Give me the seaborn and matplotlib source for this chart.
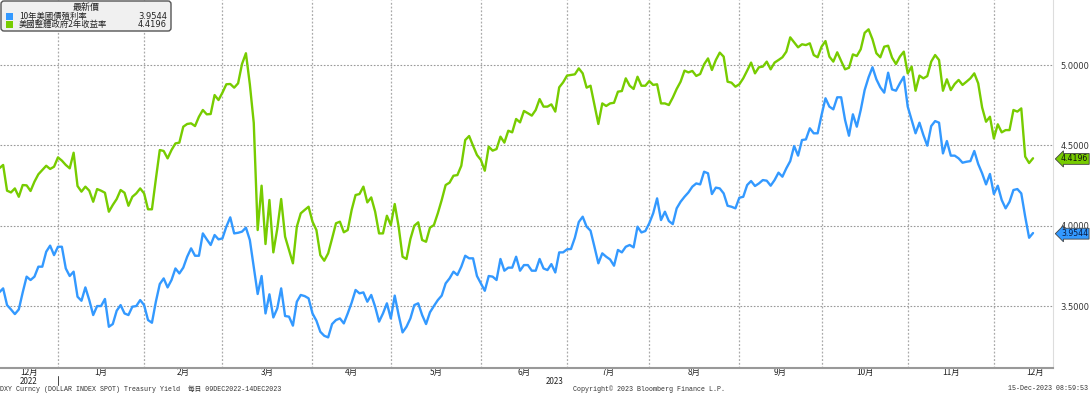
import matplotlib.pyplot as plt
import matplotlib.transforms as mtransforms
from matplotlib.patches import FancyBboxPatch, Rectangle
from matplotlib.lines import Line2D
import seaborn as sns
import pandas as pd
import numpy as np

sns.set_style("white")
plt.rcParams['font.family'] = ['Noto Sans CJK TC', 'DejaVu Sans']
plt.rcParams['axes.unicode_minus'] = False

# 每日數據（工作日），由 2022-12-09 起
start_date = "2022-12-09"
name_10y = "10年美國債殖利率"
name_2y = "美國整體政府2年收益率"

yield_10y = [
    3.585, 3.610, 3.506, 3.479, 3.450, 3.479, 3.585, 3.683, 3.662, 3.683,
    3.745, 3.745, 3.838, 3.876, 3.817, 3.869, 3.869, 3.734, 3.687, 3.714,
    3.558, 3.533, 3.616, 3.537, 3.444, 3.500, 3.500, 3.544, 3.371, 3.388,
    3.471, 3.506, 3.454, 3.444, 3.496, 3.500, 3.537, 3.506, 3.413, 3.396,
    3.527, 3.637, 3.672, 3.616, 3.662, 3.734, 3.703, 3.739, 3.807, 3.859,
    3.813, 3.813, 3.952, 3.915, 3.880, 3.942, 3.915, 3.921, 3.994, 4.052,
    3.952, 3.956, 3.963, 3.988, 3.911, 3.745, 3.575, 3.687, 3.454, 3.573,
    3.429, 3.485, 3.610, 3.438, 3.434, 3.378, 3.527, 3.569, 3.562, 3.548,
    3.454, 3.409, 3.340, 3.315, 3.305, 3.388, 3.413, 3.423, 3.392, 3.454,
    3.521, 3.600, 3.579, 3.585, 3.527, 3.569, 3.496, 3.403, 3.454, 3.517,
    3.423, 3.565, 3.444, 3.336, 3.371, 3.423, 3.506, 3.517, 3.444, 3.388,
    3.461, 3.500, 3.537, 3.565, 3.641, 3.672, 3.714, 3.693, 3.745, 3.813,
    3.797, 3.797, 3.687, 3.641, 3.595, 3.687, 3.683, 3.662, 3.793, 3.720,
    3.739, 3.739, 3.807, 3.720, 3.755, 3.755, 3.720, 3.720, 3.793,
    3.734, 3.724, 3.761, 3.709, 3.834, 3.834, 3.853, 3.855, 3.925, 4.023,
    4.056, 3.994, 3.969, 3.869, 3.766, 3.828, 3.807, 3.790, 3.751, 3.849,
    3.834, 3.869, 3.880, 3.865, 3.994, 3.958, 3.967, 4.015, 4.077, 4.170,
    4.035, 4.087, 4.029, 4.010, 4.108, 4.149, 4.180, 4.207, 4.243, 4.263,
    4.257, 4.336, 4.326, 4.197, 4.237, 4.232, 4.201, 4.124, 4.118, 4.108,
    4.174, 4.180, 4.253, 4.278, 4.247, 4.263, 4.284, 4.280, 4.249, 4.284,
    4.330, 4.305, 4.357, 4.402, 4.496, 4.436, 4.533, 4.537, 4.606, 4.575,
    4.575, 4.689, 4.793, 4.741, 4.724, 4.799, 4.799, 4.658, 4.560, 4.693,
    4.616, 4.720, 4.844, 4.923, 4.986, 4.911, 4.861, 4.828, 4.952, 4.848,
    4.840, 4.886, 4.927, 4.741, 4.658, 4.575, 4.641, 4.564, 4.498, 4.620,
    4.651, 4.641, 4.450, 4.527, 4.436, 4.436, 4.419, 4.392, 4.398, 4.402,
    4.465, 4.384, 4.326, 4.257, 4.322, 4.197, 4.249, 4.160, 4.108, 4.149,
    4.222, 4.228, 4.201, 4.056, 3.925, 3.9544,
]

yield_2y = [
    4.357, 4.378, 4.218, 4.207, 4.232, 4.180, 4.253, 4.251, 4.216, 4.274,
    4.320, 4.346, 4.373, 4.353, 4.367, 4.425, 4.405, 4.378, 4.357, 4.454,
    4.247, 4.212, 4.243, 4.218, 4.149, 4.228, 4.218, 4.205, 4.087, 4.129,
    4.166, 4.222, 4.205, 4.124, 4.180, 4.201, 4.232, 4.201, 4.102, 4.102,
    4.290, 4.471, 4.465, 4.419, 4.471, 4.512, 4.517, 4.616, 4.633, 4.637,
    4.620, 4.678, 4.720, 4.693, 4.695, 4.813, 4.782, 4.828, 4.880, 4.882,
    4.859, 4.886, 5.006, 5.073, 4.880, 4.640, 3.973, 4.249, 3.886, 4.160,
    3.834, 3.980, 4.166, 3.932, 3.850, 3.766, 3.994, 4.077, 4.098, 4.118,
    4.025, 3.973, 3.817, 3.782, 3.828, 3.920, 4.015, 4.025, 3.959, 3.973,
    4.098, 4.191, 4.197, 4.243, 4.145, 4.176, 4.087, 3.952, 3.952, 4.062,
    4.004, 4.135, 3.994, 3.807, 3.793, 3.917, 4.000, 4.021, 3.911, 3.900,
    3.988, 4.004, 4.077, 4.160, 4.253, 4.268, 4.311, 4.315, 4.373, 4.533,
    4.558, 4.498, 4.440, 4.409, 4.342, 4.492, 4.467, 4.477, 4.554, 4.517,
    4.591, 4.581, 4.664, 4.643, 4.714, 4.700, 4.685, 4.720, 4.788,
    4.741, 4.741, 4.755, 4.710, 4.861, 4.892, 4.934, 4.938, 4.942, 4.979,
    4.948, 4.859, 4.871, 4.751, 4.633, 4.761, 4.745, 4.761, 4.765, 4.834,
    4.838, 4.917, 4.871, 4.851, 4.927, 4.871, 4.871, 4.900, 4.876, 4.880,
    4.761, 4.761, 4.751, 4.797, 4.851, 4.896, 4.965, 4.954, 4.963, 4.932,
    4.944, 5.004, 5.041, 4.969, 5.031, 5.077, 5.052, 4.896, 4.890, 4.865,
    4.880, 4.917, 4.965, 5.015, 4.948, 4.986, 4.990, 5.021, 4.973, 5.015,
    5.031, 5.048, 5.083, 5.172, 5.141, 5.110, 5.129, 5.124, 5.135, 5.062,
    5.048, 5.114, 5.149, 5.052, 5.021, 5.079, 5.025, 4.973, 4.983, 5.066,
    5.056, 5.098, 5.200, 5.222, 5.160, 5.073, 5.048, 5.114, 5.120, 5.046,
    5.006, 5.052, 5.083, 4.948, 4.990, 4.840, 4.934, 4.917, 4.931, 5.021,
    5.062, 5.031, 4.840, 4.911, 4.844, 4.882, 4.907, 4.876, 4.896, 4.917,
    4.948, 4.886, 4.736, 4.647, 4.678, 4.543, 4.631, 4.581, 4.595, 4.595,
    4.720, 4.710, 4.730, 4.430, 4.390, 4.4196,
]

y_ticks = [3.5, 4.0, 4.5, 5.0]
footer_left = "DXY Curncy (DOLLAR INDEX SPOT) Treasury Yield  每日 09DEC2022-14DEC2023"
footer_mid = "Copyright© 2023 Bloomberg Finance L.P."
footer_right = "15-Dec-2023 08:59:53"

blue = "#3399ff"
green = "#77cc00"

n = min(len(yield_10y), len(yield_2y))
dates = pd.bdate_range(start_date, periods=n)
df = pd.DataFrame({"日期": dates, "pos": np.arange(n),
                   name_10y: yield_10y[:n], name_2y: yield_2y[:n]})
long_df = df.melt(id_vars=["日期", "pos"], var_name="series", value_name="yield")

W, H = 1090, 393
fig = plt.figure(figsize=(W / 100, H / 100), dpi=100)
ax = fig.add_axes([0, 1 - 368 / H, 1053 / W, 368 / H])

sns.lineplot(data=long_df, x="pos", y="yield", hue="series",
             palette={name_10y: blue, name_2y: green},
             linewidth=1.7, legend=False, errorbar=None, ax=ax)

# 月份分界（以工作日位置）
full = pd.bdate_range("2022-12-01", "2024-01-31")
offset = full.get_loc(dates[0])
full_pos = pd.Series(np.arange(len(full)) - offset, index=full)
month_start = full_pos.groupby(full.to_period("M")).first()
edges = month_start.values - 1.0
months = [p.month for p in month_start.index]

x0, x1 = 0.2, 269.1
ax.set_xlim(x0, x1)
ax.set_ylim(3.1145, 5.4045)

in_view = [e for e in edges if x0 < e < x1]
ax.set_xticks(in_view)
ax.set_xticklabels([])
centers, labels = [], []
for k in range(len(edges) - 1):
    lo = max(edges[k], x0)
    hi = edges[k + 1]
    if hi <= x0 or lo >= x1:
        continue
    centers.append((lo + hi) / 2)
    labels.append(f"{months[k]}月")
ax.set_xticks(centers, minor=True)
ax.set_xticklabels(labels, minor=True, fontsize=6, color="#222")
ax.tick_params(axis="x", which="major", length=3, width=0.8, color="#555")
ax.tick_params(axis="x", which="minor", length=0, pad=0.2)

ax.set_yticks(y_ticks)
ax.set_yticklabels([f"{v:.4f}" for v in y_ticks], family="DejaVu Sans")
ax.yaxis.tick_right()
ax.tick_params(axis="y", length=0, pad=5.5, labelsize=6, labelcolor="#333")

ax.grid(axis="y", linestyle=(0, (1.5, 1.5)), color="#999999", linewidth=0.8)
ax.grid(axis="x", which="major", linestyle=(0, (1.5, 1.5)), color="#aaaaaa", linewidth=0.9)
ax.set_xlabel("")
ax.set_ylabel("")
for side in ["left", "top"]:
    ax.spines[side].set_visible(False)
ax.spines["bottom"].set_color("#999999")
ax.spines["bottom"].set_linewidth(1.5)
ax.spines["right"].set_color("#dddddd")
ax.spines["right"].set_linewidth(0.8)

# 最新值標籤
trans = mtransforms.blended_transform_factory(ax.transAxes, ax.transData)
for val, fc, tc in [(yield_2y[n - 1], green, "#111111"), (yield_10y[n - 1], blue, "#0a1a40")]:
    ax.text(1.0 + 8 / 1053, val - 0.004, f"{val:.4f}", transform=trans, fontsize=5.6,
            color=tc, va="center", ha="left", family="DejaVu Sans", clip_on=False,
            bbox=dict(boxstyle="larrow,pad=0.12", fc=fc, ec="#444444", lw=0.6))

# 年份
fig.text(((0 + 58) / 2) / W, 1 - 381.5 / H, "2022", ha="center", va="center",
         fontsize=5.8, color="#222")
fig.text(555 / W, 1 - 381.5 / H, "2023", ha="center", va="center",
         fontsize=5.8, color="#222")
fig.add_artist(Line2D([58 / W, 58 / W], [1 - 376 / H, 1 - 385 / H], color="#444", lw=0.7))

# 圖例
box = FancyBboxPatch((0.01, (H - 31) / 100), 1.70, 0.30,
                     boxstyle="round,pad=0,rounding_size=0.03",
                     transform=fig.dpi_scale_trans, fc="#f0f0f0", ec="#555555",
                     lw=1, zorder=5)
fig.add_artist(box)
fig.text(86 / W, 1 - 7 / H, "最新價", ha="center", va="center", fontsize=6.5,
         color="#222", zorder=6)
for row_y, col, name, val in [(16.5, blue, name_10y, yield_10y[n - 1]),
                              (24.5, green, name_2y, yield_2y[n - 1])]:
    fig.add_artist(Rectangle((0.06, (H - row_y - 3.5) / 100), 0.07, 0.07,
                             transform=fig.dpi_scale_trans, fc=col, ec="none", zorder=6))
    fig.text(19 / W, 1 - row_y / H, name, ha="left", va="center", fontsize=6,
             color="#222", zorder=6)
    fig.text(167 / W, 1 - row_y / H, f"{val:.4f}", ha="right", va="center",
             fontsize=6, color="#222", family="DejaVu Sans", zorder=6)

# 頁腳
mono = ["Liberation Mono", "Noto Sans CJK TC"]
fig.text(0.5 / W, 1 - 388.8 / H, footer_left, ha="left", va="center", fontsize=4.8,
         family=mono, color="#333")
fig.text(573 / W, 1 - 388.8 / H, footer_mid, ha="left", va="center", fontsize=4.8,
         family=mono, color="#333")
fig.text(1088 / W, 1 - 388.8 / H, footer_right, ha="right", va="center", fontsize=4.8,
         family=mono, color="#333")

fig.savefig("out.png", dpi=100)
